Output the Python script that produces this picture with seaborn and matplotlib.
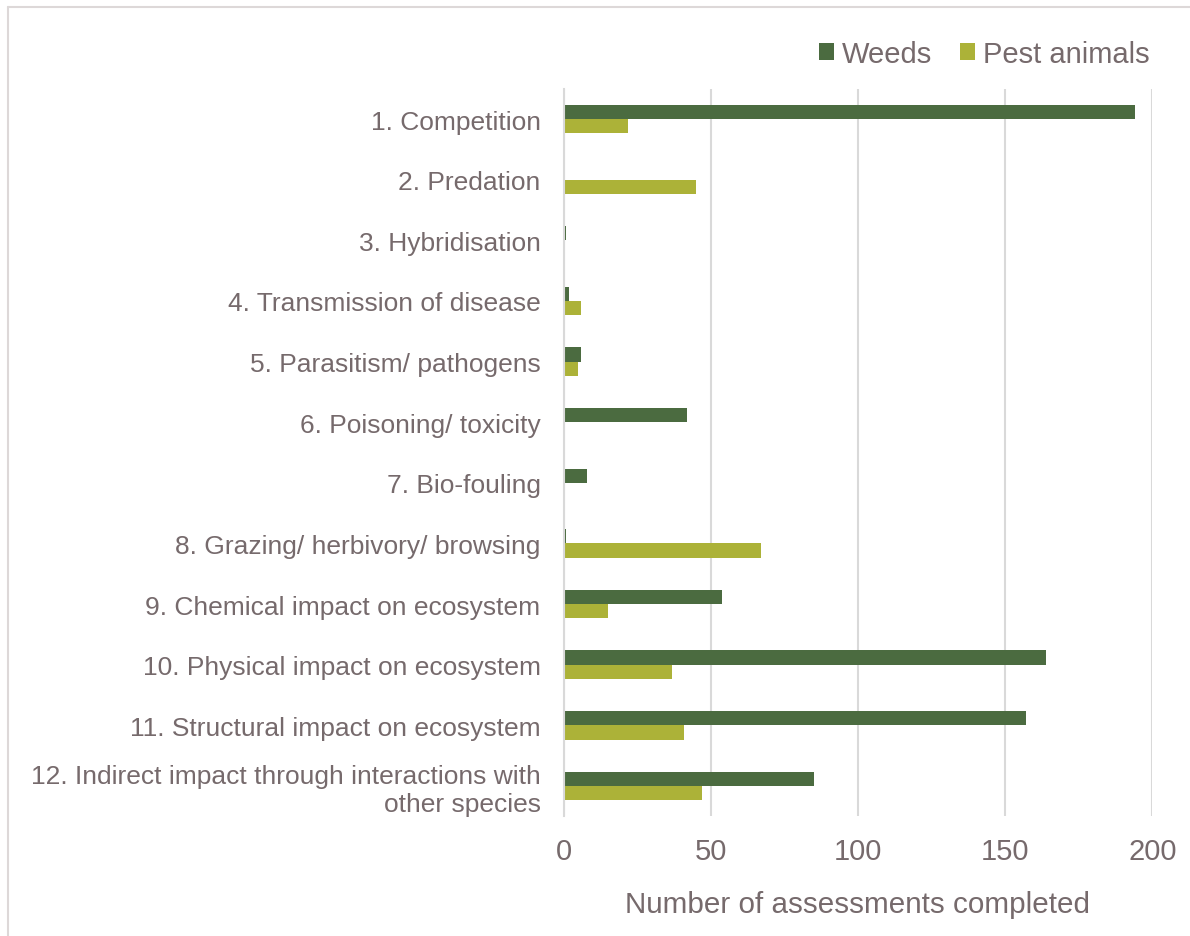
import matplotlib
matplotlib.use("Agg")
import matplotlib.pyplot as plt
from matplotlib.patches import Patch
import seaborn as sns
import pandas as pd

categories = [
    "1. Competition",
    "2. Predation",
    "3. Hybridisation",
    "4. Transmission of disease",
    "5. Parasitism/ pathogens",
    "6. Poisoning/ toxicity",
    "7. Bio-fouling",
    "8. Grazing/ herbivory/ browsing",
    "9. Chemical impact on ecosystem",
    "10. Physical impact on ecosystem",
    "11. Structural impact on ecosystem",
    "12. Indirect impact through interactions with\nother species",
]
weeds = [194, 0, 1, 2, 6, 42, 8, 1, 54, 164, 157, 85]
pest_animals = [22, 45, 0, 6, 5, 0, 0, 67, 15, 37, 41, 47]
series = ["Weeds", "Pest animals"]
x_ticks = [0, 50, 100, 150, 200]

colors = {"Weeds": "#4B6B40", "Pest animals": "#ACB238"}
text_color = "#766A6C"
grid_color = "#D9D9D9"

df = pd.DataFrame({
    "category": categories * 2,
    "series": [series[0]] * len(categories) + [series[1]] * len(categories),
    "value": weeds + pest_animals,
})

sns.set_theme(style="white")
plt.rcParams["font.family"] = ["Liberation Sans", "DejaVu Sans"]

W, H = 1190, 937
fig = plt.figure(figsize=(W / 100, H / 100), dpi=100)
ax = fig.add_axes([563.5 / W, 1 - 817.3 / H, (1152.3 - 563.5) / W, (817.3 - 89.7) / H])

sns.barplot(
    data=df, x="value", y="category", hue="series", order=categories,
    hue_order=series, palette=colors, orient="h", width=0.472,
    saturation=1, errorbar=None, legend=False, ax=ax, linewidth=0,
)

ax.set_xlim(0, 200)
ax.set_xticks(x_ticks)
ax.xaxis.grid(True, color=grid_color, linewidth=1.5)
ax.set_axisbelow(True)
for side in ["top", "right", "bottom"]:
    ax.spines[side].set_visible(False)
ax.spines["left"].set_color(grid_color)
ax.spines["left"].set_linewidth(1.5)

ax.tick_params(axis="y", length=0, pad=16.5, labelsize=19, labelcolor=text_color)
ax.tick_params(axis="x", length=0, pad=15, labelsize=21, labelcolor=text_color)
ax.set_ylabel("")
ax.set_xlabel("Number of assessments completed", fontsize=21.3,
              color=text_color, labelpad=18)

handles = [Patch(facecolor=colors[s], edgecolor="none") for s in series]
fig.legend(
    handles, series, loc="center right", bbox_to_anchor=(1150 / W, 1 - 55 / H),
    ncol=2, frameon=False, fontsize=21, labelcolor=text_color,
    handlelength=0.52, handleheight=0.52, handletextpad=0.28, columnspacing=0.95,
    borderaxespad=0, borderpad=0,
)

# thin outer frame along the top and left edges
fig.add_artist(plt.Line2D([7.5 / W, 1.0], [1 - 7.5 / H] * 2, color="#DDD8D8",
                          linewidth=1.5, transform=fig.transFigure))
fig.add_artist(plt.Line2D([7.5 / W] * 2, [0.0, 1 - 7.5 / H], color="#DDD8D8",
                          linewidth=1.5, transform=fig.transFigure))

fig.savefig("out.png", dpi=100)
